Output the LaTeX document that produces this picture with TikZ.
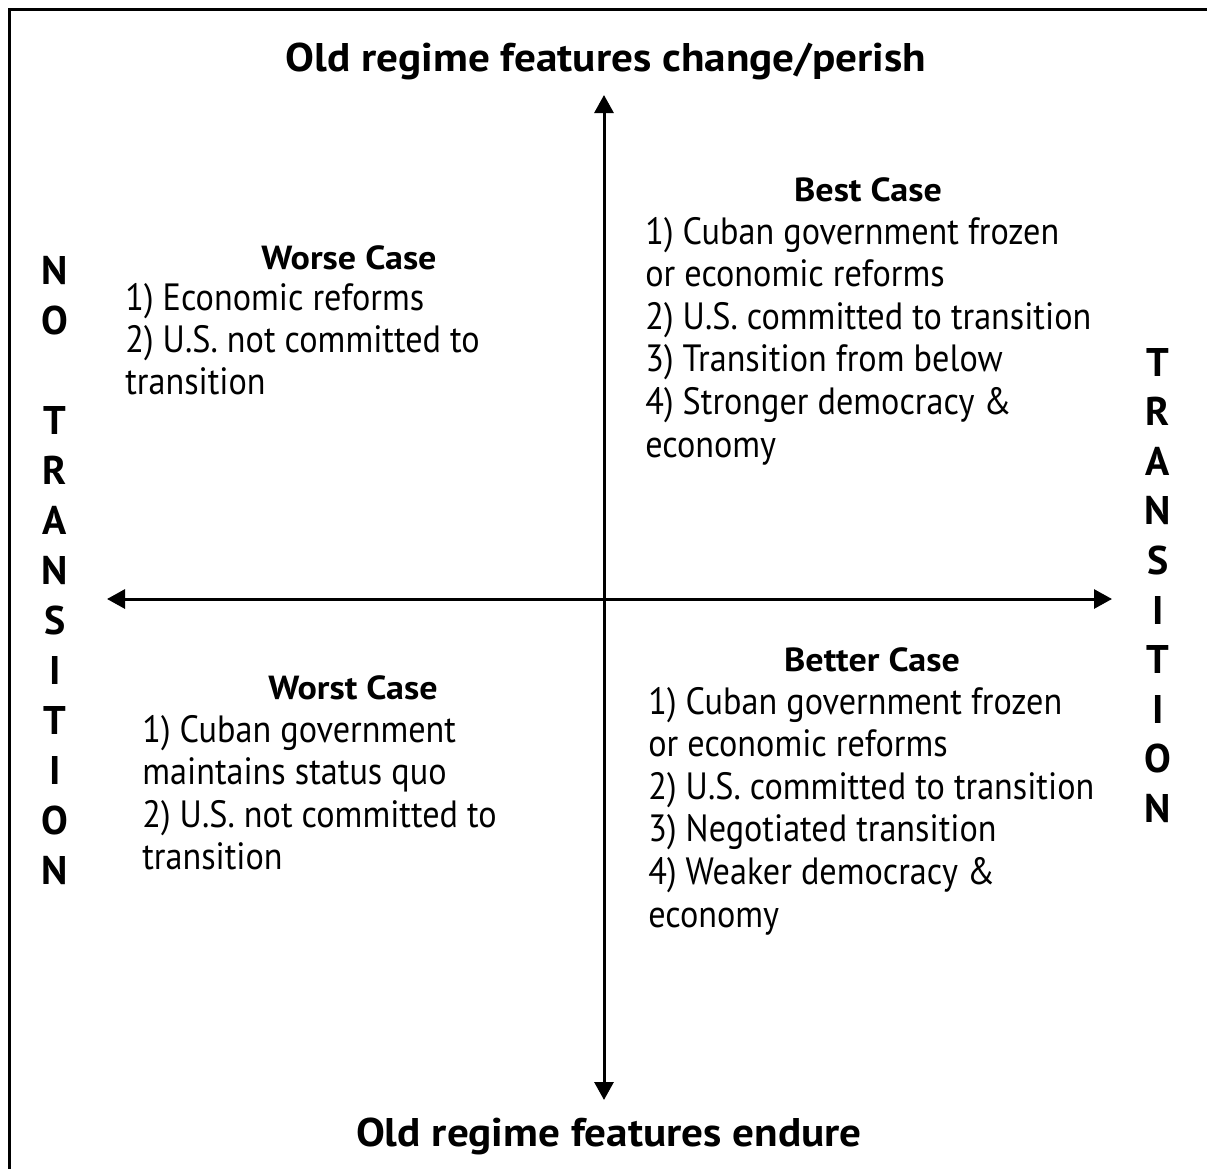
\documentclass[tikz,border=0pt]{standalone}
\usepackage{fontspec}
\setmainfont{PT Sans}
\newfontfamily\bodyfont[FakeStretch=0.9]{PT Sans}
\newfontfamily\headfont[FakeStretch=1.08]{PT Sans}
\usetikzlibrary{arrows.meta}

\tikzset{
  axis/.style={line width=1.5pt,{Triangle[length=9pt,width=9.5pt]}-{Triangle[length=9pt,width=9.5pt]}},
  title/.style={anchor=base,inner sep=0pt,font=\headfont\fontsize{20}{24}\selectfont\bfseries},
  casehead/.style={anchor=base,inner sep=0pt,font=\headfont\fontsize{16.7}{20}\selectfont\bfseries},
  caseline/.style={anchor=base west,inner sep=0pt,font=\bodyfont\fontsize{19}{21}\selectfont},
  letter/.style={anchor=base,inner sep=0pt,font=\fontsize{20}{24}\selectfont\bfseries}
}

\begin{document}
\begin{tikzpicture}[x=0.5pt,y=-0.5pt]

\useasboundingbox (0,0) rectangle (1207,1169);

% frame, cut off at right and bottom
\draw[line width=1.5pt] (1207,9)--(9,9)--(9,1169);

% axes
\coordinate (up) at (604,95);
\coordinate (down) at (604,1100);
\coordinate (left) at (107,599);
\coordinate (right) at (1112,599);
\draw[axis] (down)--(up);
\draw[axis] (left)--(right);

\node[title] (change) at (606,71) {Old regime features change/perish};
\node[title] (endure) at (609,1146) {Old regime features endure};

% side labels
\foreach \c/\r [count=\i] in {N/0,O/1,T/3,R/4,A/5,N/6,S/7,I/8,T/9,I/10,O/11,N/12}
  \node[letter] (notrans\i) at (55,284+50*\r) {\c};
\foreach \c/\r [count=\i] in {T/0,R/1,A/2,N/3,S/4,I/5,T/6,I/7,O/8,N/9}
  \node[letter] (trans\i) at (1158,376+49.6*\r) {\c};

% upper left
\node[casehead] (worse) at (349,269) {Worse Case};
\node[caseline] (worse1) at (125,310) {1) Economic reforms};
\node[caseline] (worse2) at (125,352) {2) U.S. not committed to};
\node[caseline] (worse3) at (125,394) {transition};

% upper right
\node[casehead] (best) at (868,201) {Best Case};
\node[caseline] (best1) at (645,244) {1) Cuban government frozen};
\node[caseline] (best2) at (645,286) {or economic reforms};
\node[caseline] (best3) at (645,329) {2) U.S. committed to transition};
\node[caseline] (best4) at (645,371) {3) Transition from below};
\node[caseline] (best5) at (645,414) {4) Stronger democracy \&};
\node[caseline] (best6) at (645,457) {economy};

% lower left
\node[casehead] (worst) at (353,699) {Worst Case};
\node[caseline] (worst1) at (142,742) {1) Cuban government};
\node[caseline] (worst2) at (142,784) {maintains status quo};
\node[caseline] (worst3) at (142,827) {2) U.S. not committed to};
\node[caseline] (worst4) at (142,869) {transition};

% lower right
\node[casehead] (better) at (872,671) {Better Case};
\node[caseline] (better1) at (648,714) {1) Cuban government frozen};
\node[caseline] (better2) at (648,756) {or economic reforms};
\node[caseline] (better3) at (648,799) {2) U.S. committed to transition};
\node[caseline] (better4) at (648,841) {3) Negotiated transition};
\node[caseline] (better5) at (648,884) {4) Weaker democracy \&};
\node[caseline] (better6) at (648,927) {economy};

\end{tikzpicture}
\end{document}
